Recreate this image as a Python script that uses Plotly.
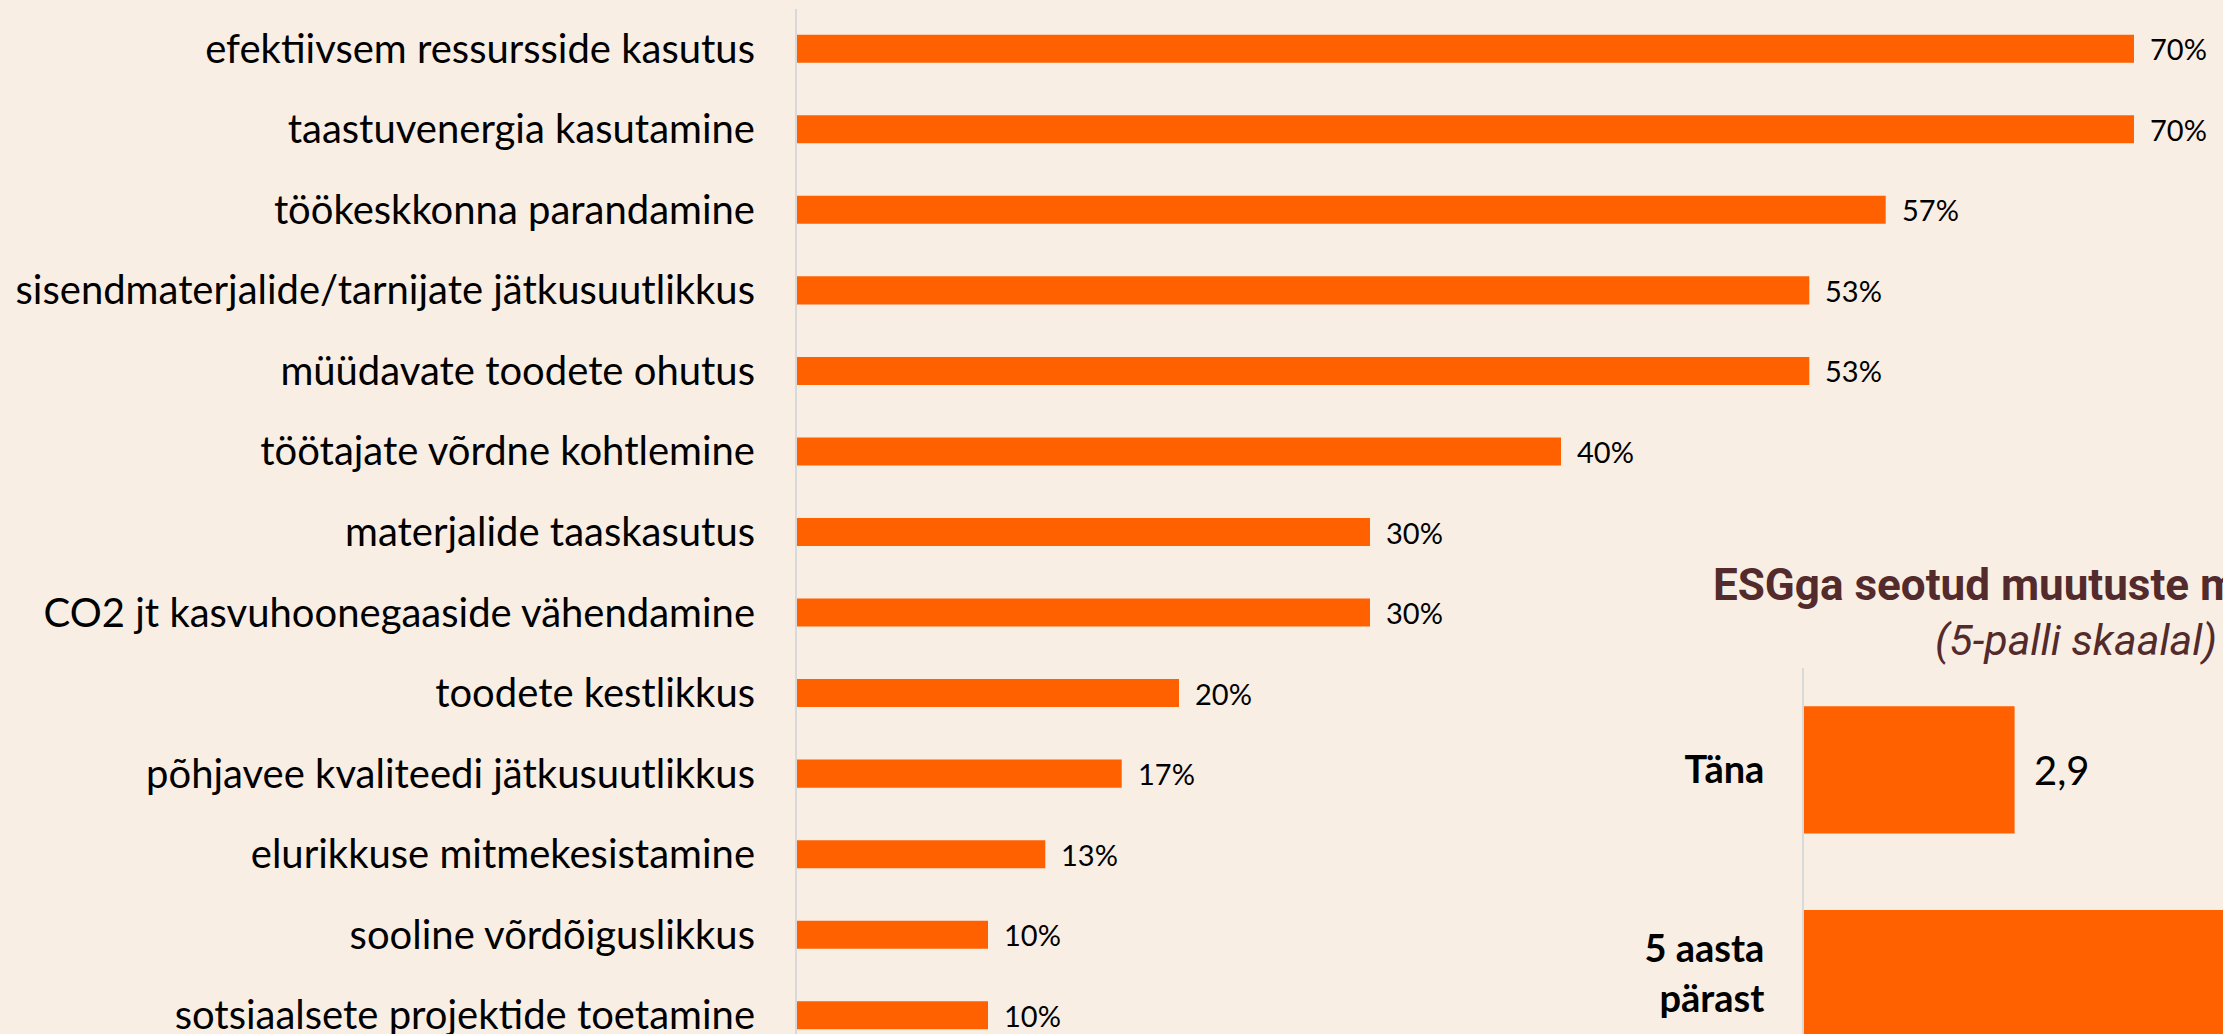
import plotly.graph_objects as go

# --- data -------------------------------------------------------------
categories = [
    "efektiivsem ressursside kasutus",
    "taastuvenergia kasutamine",
    "töökeskkonna parandamine",
    "sisendmaterjalide/tarnijate jätkusuutlikkus",
    "müüdavate toodete ohutus",
    "töötajate võrdne kohtlemine",
    "materjalide taaskasutus",
    "CO2 jt kasvuhoonegaaside vähendamine",
    "toodete kestlikkus",
    "põhjavee kvaliteedi jätkusuutlikkus",
    "elurikkuse mitmekesistamine",
    "sooline võrdõiguslikkus",
    "sotsiaalsete projektide toetamine",
]
shares = [70, 70, 57, 53, 53, 40, 30, 30, 20, 17, 13, 10, 10]

periods = ["Täna", "5 aasta<br>pärast"]
scores = [2.9, 3.9]

side_title = "ESGga seotud muutuste mõju ettevõttele"
side_subtitle = "(5-palli skaalal)"

# --- style ------------------------------------------------------------
W, H = 2500, 1100
BG = "#F9EEE4"
BAR = "#FF6000"
AXIS = "#D9D9D9"
BROWN = "#532B2C"


def px_x(p):
    return p / W


def px_y(p):
    return (H - p) / H


fig = go.Figure()

# main ranking chart
fig.add_trace(go.Bar(
    x=shares, y=categories, orientation="h", width=0.348,
    marker=dict(color=BAR, line=dict(width=0)),
    xaxis="x", yaxis="y", hoverinfo="skip", showlegend=False,
))

for c, v in zip(categories, shares):
    fig.add_annotation(
        x=v, y=c, xref="x", yref="y", text=f"{v}%", showarrow=False,
        xanchor="left", yanchor="middle", xshift=14,
        font=dict(family="Lato", size=29, color="#000000"),
    )

# side chart: today vs in five years
fig.add_trace(go.Bar(
    x=scores, y=periods, orientation="h", width=0.624,
    marker=dict(color=BAR, line=dict(width=0)),
    xaxis="x2", yaxis="y2", hoverinfo="skip", showlegend=False,
))

for p, v in zip(periods, scores):
    fig.add_annotation(
        x=v, y=p, xref="x2", yref="y2", text=f"{v:.1f}".replace(".", ","),
        showarrow=False, xanchor="left", yanchor="middle", xshift=17,
        font=dict(family="Lato", size=40, color="#000000"),
    )

fig.add_annotation(
    x=px_x(1711), y=px_y(602), xref="paper", yref="paper",
    text=f"<b>{side_title}</b>", showarrow=False,
    xanchor="left", yanchor="bottom", yshift=-11,
    font=dict(family="Roboto", size=44, color=BROWN),
)
fig.add_annotation(
    x=px_x(1933), y=px_y(656), xref="paper", yref="paper",
    text=f"<i>{side_subtitle}</i>", showarrow=False,
    xanchor="left", yanchor="bottom", yshift=-11,
    font=dict(family="Roboto", size=43, color=BROWN),
)

fig.update_layout(
    width=W, height=H, autosize=False,
    margin=dict(l=0, r=0, t=0, b=0, pad=0),
    paper_bgcolor=BG, plot_bgcolor="rgba(0,0,0,0)",
    xaxis=dict(
        domain=[px_x(797), px_x(797 + 19.1 * 80)], range=[0, 80],
        showgrid=False, zeroline=False, showticklabels=False, showline=False,
        anchor="y",
    ),
    yaxis=dict(
        domain=[px_y(1055.5), px_y(8.5)], autorange="reversed",
        showgrid=False, zeroline=False, showline=True, linecolor=AXIS,
        linewidth=2, ticks="", ticklabelstandoff=32,
        tickfont=dict(family="Lato", size=40, color="#000000"),
        anchor="x",
    ),
    xaxis2=dict(
        domain=[px_x(1804), px_x(1804 + 234 * 2.5)], range=[2, 4.5],
        showgrid=False, zeroline=False, showticklabels=False, showline=False,
        anchor="y2",
    ),
    yaxis2=dict(
        domain=[px_y(1075.5), px_y(668)], autorange="reversed",
        showgrid=False, zeroline=False, showline=True, linecolor=AXIS,
        linewidth=2, ticks="", ticklabelstandoff=30,
        tickfont=dict(family="Lato", size=38, color="#000000", weight="bold"),
        anchor="x2",
    ),
)

fig.write_html(
    "out.html",
    config={"displayModeBar": False},
    post_script=(
        "document.documentElement.style.overflow='hidden';"
        "document.body.style.overflow='hidden';"
        "document.body.style.margin='0';"
    ),
)
